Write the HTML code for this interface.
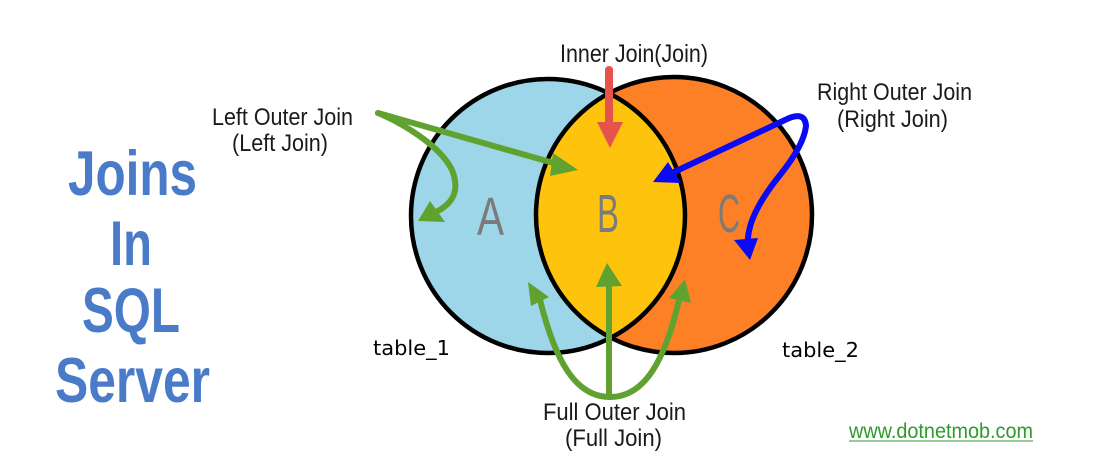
<!DOCTYPE html>
<html>
<head>
<meta charset="utf-8">
<style>
html,body{margin:0;padding:0;background:#fff;}
svg{display:block;}
</style>
</head>
<body>
<svg width="1109" height="464" viewBox="0 0 1109 464" xmlns="http://www.w3.org/2000/svg">
  <defs>
    <clipPath id="leftClip"><circle cx="548" cy="216" r="137"/></clipPath>
  </defs>
  <rect width="1109" height="464" fill="#ffffff"/>

  <!-- Title -->
  <g font-family="'Liberation Sans Narrow','Liberation Sans',sans-serif" font-weight="bold" font-size="63" fill="#4a7bc8">
    <text x="68" y="195" textLength="129" lengthAdjust="spacingAndGlyphs">Joins</text>
    <text x="110" y="265" textLength="42" lengthAdjust="spacingAndGlyphs">In</text>
    <text x="82" y="332" textLength="98" lengthAdjust="spacingAndGlyphs">SQL</text>
    <text x="55" y="402" textLength="155" lengthAdjust="spacingAndGlyphs">Server</text>
  </g>

  <!-- Circles -->
  <circle cx="548" cy="216" r="137" fill="#9ed6e9"/>
  <circle cx="674" cy="215" r="138" fill="#fd7f26"/>
  <circle cx="674" cy="215" r="138" fill="#fec40d" clip-path="url(#leftClip)"/>
  <circle cx="548" cy="216" r="137" fill="none" stroke="#000" stroke-width="4.5"/>
  <circle cx="674" cy="215" r="138" fill="none" stroke="#000" stroke-width="4.5"/>

  <!-- A B C -->
  <g font-family="'Liberation Sans Narrow','Liberation Sans',sans-serif" font-size="54" fill="#7b7b7b">
    <text x="477" y="235" textLength="27" lengthAdjust="spacingAndGlyphs">A</text>
    <text x="597" y="232" textLength="22" lengthAdjust="spacingAndGlyphs">B</text>
    <text x="718" y="232" textLength="22" lengthAdjust="spacingAndGlyphs">C</text>
  </g>

  <!-- Red inner join arrow -->
  <line x1="609" y1="70" x2="609" y2="124" stroke="#e6524c" stroke-width="8" stroke-linecap="round"/>
  <polygon points="597,122 623,122 610,148" fill="#e6524c"/>

  <!-- Green left join arrows -->
  <g stroke="#60a22f" stroke-width="6" fill="none" stroke-linecap="round" stroke-linejoin="round">
    <path d="M378 113 L557 164"/>
    <path d="M378 113 C400 122 440 145 452 170 C462 195 448 206 436 212"/>
  </g>
  <polygon points="553,153 578,170 550,176" fill="#60a22f"/>
  <polygon points="430,201 445,222 418,221" fill="#60a22f"/>

  <!-- Blue right join arrows -->
  <g stroke="#0a0af5" stroke-width="6" fill="none" stroke-linecap="round" stroke-linejoin="round">
    <path d="M672 173 L785 120 Q805 110 806 126 Q804 145 780 175 Q750 212 748 238"/>
  </g>
  <polygon points="668,162 681,183 653,182" fill="#0a0af5"/>
  <polygon points="734,240 758,238 750,260" fill="#0a0af5"/>

  <!-- Green full join arrows -->
  <g stroke="#60a22f" stroke-width="6" fill="none" stroke-linecap="round" stroke-linejoin="round">
    <path d="M609 397 L609 284"/>
    <path d="M610 397 C575 397 555 360 540 300"/>
    <path d="M610 397 C645 397 665 360 679 300"/>
  </g>
  <polygon points="596,287 622,286 607,263" fill="#60a22f"/>
  <polygon points="531,306 549,297 528,282" fill="#60a22f"/>
  <polygon points="669,298 691,303 685,279" fill="#60a22f"/>

  <!-- Labels -->
  <g font-family="'Liberation Sans Narrow','Liberation Sans',sans-serif" font-size="24" fill="#1a1a1a">
    <text x="560" y="62" font-size="25" textLength="148" lengthAdjust="spacingAndGlyphs">Inner Join(Join)</text>
    <text x="212" y="125" textLength="141" lengthAdjust="spacingAndGlyphs">Left Outer Join</text>
    <text x="232" y="151" textLength="96" lengthAdjust="spacingAndGlyphs">(Left Join)</text>
    <text x="817" y="100" textLength="155" lengthAdjust="spacingAndGlyphs">Right Outer Join</text>
    <text x="837" y="127" textLength="111" lengthAdjust="spacingAndGlyphs">(Right Join)</text>
    <text x="543" y="420" textLength="143" lengthAdjust="spacingAndGlyphs">Full Outer Join</text>
    <text x="565" y="446" textLength="97" lengthAdjust="spacingAndGlyphs">(Full Join)</text>
  </g>

  <g font-family="'DejaVu Sans','Liberation Sans',sans-serif" font-size="20" fill="#000">
    <text x="373" y="355" textLength="77" lengthAdjust="spacingAndGlyphs">table_1</text>
    <text x="782" y="357" textLength="77" lengthAdjust="spacingAndGlyphs">table_2</text>
  </g>

  <text x="849" y="438" font-family="'Liberation Sans Narrow','Liberation Sans',sans-serif" font-size="21" fill="#2f9a2f" textLength="184" lengthAdjust="spacingAndGlyphs">www.dotnetmob.com</text>
  <line x1="849" y1="441" x2="1033" y2="441" stroke="#2f9a2f" stroke-width="1"/>
</svg>
</body>
</html>
